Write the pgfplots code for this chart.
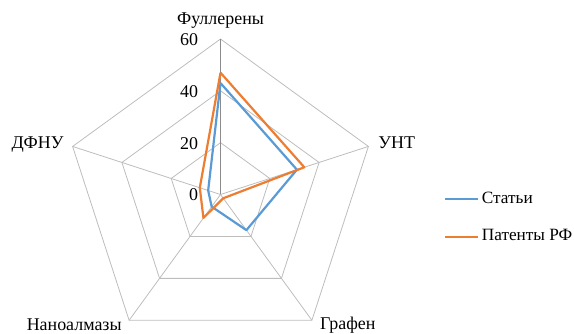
\documentclass[border=0pt]{standalone}
\usepackage{fontspec}
\setmainfont{Liberation Serif}
\newfontfamily\tnr{Liberation Serif}
\usepackage{pgfplots}
\pgfplotsset{compat=1.18}
\definecolor{sblue}{HTML}{5B9BD5}
\definecolor{sorange}{HTML}{ED7D31}
\definecolor{gridc}{HTML}{BDBDBD}
\definecolor{axc}{HTML}{8C8C8C}
\begin{document}
\begin{tikzpicture}[font=\tnr\fontsize{18}{21}\selectfont]
\begin{axis}[
  scale only axis, width=574bp, height=334bp,
  xmin=-85.08, xmax=136.40, ymin=-53.83, ymax=75.05,
  hide axis, clip=false,
  font=\tnr\fontsize{18}{21}\selectfont,
  legend style={at={(0.7735,0.3477)}, anchor=west, draw=none, fill=none,
    inner xsep=0pt, inner ysep=0pt,
    nodes={inner sep=0pt, text height=12bp, text depth=4bp},
    column sep=2.5bp, row sep=21.7bp, font=\tnr\fontsize{17.3}{20}\selectfont},
  legend cell align=left,
  legend image code/.code={\draw[#1] (0bp,0bp) -- (33bp,0bp);},
  every node/.append style={inner sep=0pt},
]
% grid pentagons
\addplot[gridc, line width=0.8bp, data cs=polar, forget plot] coordinates {(90,20) (18,20) (-54,20) (-126,20) (162,20) (90,20)};
\addplot[gridc, line width=0.8bp, data cs=polar, forget plot] coordinates {(90,40) (18,40) (-54,40) (-126,40) (162,40) (90,40)};
\addplot[gridc, line width=0.8bp, data cs=polar, forget plot] coordinates {(90,60) (18,60) (-54,60) (-126,60) (162,60) (90,60)};
% spokes
\addplot[gridc, line width=0.8bp, data cs=polar, forget plot] coordinates {(18,0) (18,60)};
\addplot[gridc, line width=0.8bp, data cs=polar, forget plot] coordinates {(-54,0) (-54,60)};
\addplot[gridc, line width=0.8bp, data cs=polar, forget plot] coordinates {(-126,0) (-126,60)};
\addplot[gridc, line width=0.8bp, data cs=polar, forget plot] coordinates {(162,0) (162,60)};
\addplot[axc, line width=1.1bp, data cs=polar, forget plot] coordinates {(90,0) (90,60)};
% series
\addplot[sblue, line width=2.2bp, line join=round, data cs=polar] coordinates {(90,43) (18,31) (-54,17) (-126,5.8) (162,5) (90,43)};
\addlegendentry{Статьи}
\addplot[sorange, line width=2.2bp, line join=round, data cs=polar] coordinates {(90,47) (18,34) (-54,1.8) (-126,11.2) (162,8.4) (90,47)};
\addlegendentry{Патенты РФ}
% labels
\node[anchor=center] at (axis cs:0,66.95) {Фуллерены};
\node[anchor=west] at (axis cs:59.6,19.9) {УНТ};
\node[anchor=west] at (axis cs:37.1,-50.3) {Графен};
\node[anchor=east] at (axis cs:-36.8,-50.3) {Наноалмазы};
\node[anchor=east] at (axis cs:-59.2,19.1) {ДФНУ};
% value labels
\node[anchor=east] at (axis cs:-7.33,59.6) {60};
\node[anchor=east] at (axis cs:-7.33,39.7) {40};
\node[anchor=east] at (axis cs:-7.33,19.5) {20};
\node[anchor=east] at (axis cs:-7.33,-0.2) {0};
\end{axis}
\pgfresetboundingbox
\path (0,0) rectangle (574bp,334bp);
\end{tikzpicture}
\end{document}
